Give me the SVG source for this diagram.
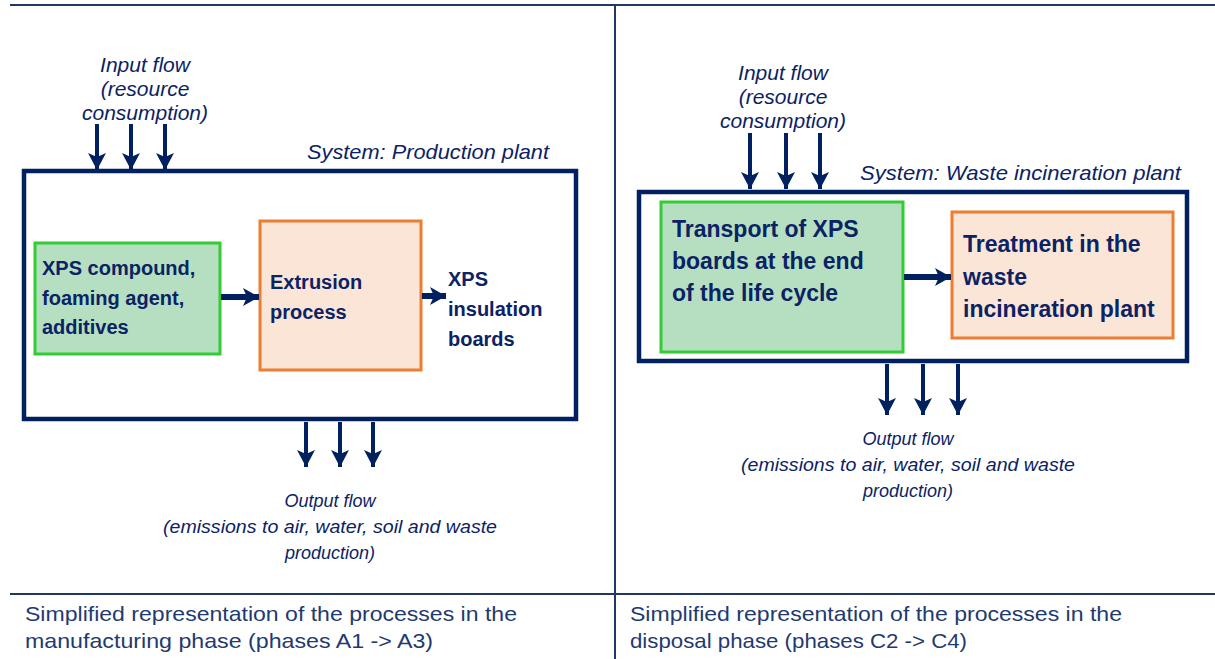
<svg xmlns="http://www.w3.org/2000/svg" width="1215" height="659" viewBox="0 0 1215 659">
<style>
.frame{stroke:#1f3864;stroke-width:2;fill:none}
.sys{fill:#fff;stroke:#002060;stroke-width:4.5}
.green{fill:#b5dfc0;stroke:#33cc33;stroke-width:3}
.orange{fill:#fbe5d6;stroke:#ed7d31;stroke-width:3}
.arr{stroke:#002060;stroke-width:4;fill:none;marker-end:url(#ah)}
.thick{stroke:#002060;stroke-width:6;fill:none;marker-end:url(#ahb)}
.it{font-family:"Liberation Sans",Arial,sans-serif;font-style:italic;fill:#0b2265}
.b{font-family:"Liberation Sans",Arial,sans-serif;font-weight:bold;fill:#0b2265}
.cap{font-family:"Liberation Sans",Arial,sans-serif;fill:#1f3a70;font-size:21px}
</style>
<defs>
<marker id="ah" markerUnits="userSpaceOnUse" markerWidth="22" markerHeight="22" refX="17" refY="9" orient="auto">
<path d="M0,0 L17,9 L0,18 L4,9 Z" fill="#002060"/>
</marker>
<marker id="ahb" markerUnits="userSpaceOnUse" markerWidth="22" markerHeight="22" refX="16" refY="9" orient="auto">
<path d="M0,0 L16,9 L0,18 L4,9 Z" fill="#002060"/>
</marker>
</defs>
<g id="frame">
<line class="frame" x1="10" y1="5" x2="1215" y2="5"/>
<line class="frame" x1="615" y1="5" x2="615" y2="659"/>
<line class="frame" x1="10" y1="594" x2="1215" y2="594"/>
</g>
<g id="left-system">
<rect class="sys" x="24" y="171" width="552" height="248"/>
<text class="it" x="307" y="159" font-size="21" textLength="242" lengthAdjust="spacingAndGlyphs">System: Production plant</text>
</g>
<g id="left-input-label">
<text class="it" font-size="21" text-anchor="middle"><tspan x="145" y="72">Input flow</tspan><tspan x="145" y="96">(resource</tspan><tspan x="145" y="120">consumption)</tspan></text>
</g>
<g id="xps-compound">
<rect class="green" x="35" y="243" width="185" height="111"/>
<text class="b" font-size="20"><tspan x="42" y="275">XPS compound,</tspan><tspan x="42" y="305">foaming agent,</tspan><tspan x="42" y="334">additives</tspan></text>
</g>
<g id="extrusion">
<rect class="orange" x="260" y="221" width="161" height="149"/>
<text class="b" font-size="20"><tspan x="270" y="289">Extrusion</tspan><tspan x="270" y="319">process</tspan></text>
</g>
<g id="xps-boards">
<text class="b" font-size="20"><tspan x="448" y="286">XPS</tspan><tspan x="448" y="316">insulation</tspan><tspan x="448" y="346">boards</tspan></text>
</g>
<g id="left-output-label">
<text class="it" font-size="18" text-anchor="middle"><tspan x="330" y="507">Output flow</tspan><tspan x="330" y="533" textLength="334" lengthAdjust="spacingAndGlyphs">(emissions to air, water, soil and waste</tspan><tspan x="330" y="559">production)</tspan></text>
</g>
<g id="right-system">
<rect class="sys" x="639" y="192" width="548" height="169"/>
<text class="it" x="860" y="180" font-size="21" textLength="321" lengthAdjust="spacingAndGlyphs">System: Waste incineration plant</text>
</g>
<g id="right-input-label">
<text class="it" font-size="21" text-anchor="middle"><tspan x="783" y="80">Input flow</tspan><tspan x="783" y="104">(resource</tspan><tspan x="783" y="128">consumption)</tspan></text>
</g>
<g id="transport">
<rect class="green" x="661" y="202" width="242" height="150"/>
<text class="b" font-size="23"><tspan x="672" y="237">Transport of XPS</tspan><tspan x="672" y="269">boards at the end</tspan><tspan x="672" y="301">of the life cycle</tspan></text>
</g>
<g id="treatment">
<rect class="orange" x="952" y="212" width="221" height="126"/>
<text class="b" font-size="23"><tspan x="963" y="252">Treatment in the</tspan><tspan x="963" y="285">waste</tspan><tspan x="963" y="317">incineration plant</tspan></text>
</g>
<g id="right-output-label">
<text class="it" font-size="18" text-anchor="middle"><tspan x="908" y="445">Output flow</tspan><tspan x="908" y="471" textLength="334" lengthAdjust="spacingAndGlyphs">(emissions to air, water, soil and waste</tspan><tspan x="908" y="497">production)</tspan></text>
</g>
<g id="captions">
<text class="cap"><tspan x="25" y="621" textLength="492" lengthAdjust="spacingAndGlyphs">Simplified representation of the processes in the</tspan><tspan x="25" y="648" textLength="408" lengthAdjust="spacingAndGlyphs">manufacturing phase (phases A1 -&gt; A3)</tspan></text>
<text class="cap"><tspan x="630" y="621" textLength="492" lengthAdjust="spacingAndGlyphs">Simplified representation of the processes in the</tspan><tspan x="630" y="648" textLength="337" lengthAdjust="spacingAndGlyphs">disposal phase (phases C2 -&gt; C4)</tspan></text>
</g>
<g id="connectors">
<line class="arr" x1="97" y1="124" x2="97" y2="170"/>
<line class="arr" x1="131" y1="124" x2="131" y2="170"/>
<line class="arr" x1="165" y1="124" x2="165" y2="170"/>
<line class="thick" x1="221" y1="297" x2="259" y2="297"/>
<line class="thick" x1="422" y1="296" x2="446" y2="296"/>
<line class="arr" x1="306" y1="422" x2="306" y2="467"/>
<line class="arr" x1="340" y1="422" x2="340" y2="467"/>
<line class="arr" x1="373" y1="422" x2="373" y2="467"/>
<line class="arr" x1="750" y1="133" x2="750" y2="189"/>
<line class="arr" x1="786" y1="133" x2="786" y2="189"/>
<line class="arr" x1="820" y1="133" x2="820" y2="189"/>
<line class="thick" x1="904" y1="277" x2="951" y2="277"/>
<line class="arr" x1="887" y1="364" x2="887" y2="415"/>
<line class="arr" x1="923" y1="364" x2="923" y2="415"/>
<line class="arr" x1="958" y1="364" x2="958" y2="415"/>
</g>
</svg>
